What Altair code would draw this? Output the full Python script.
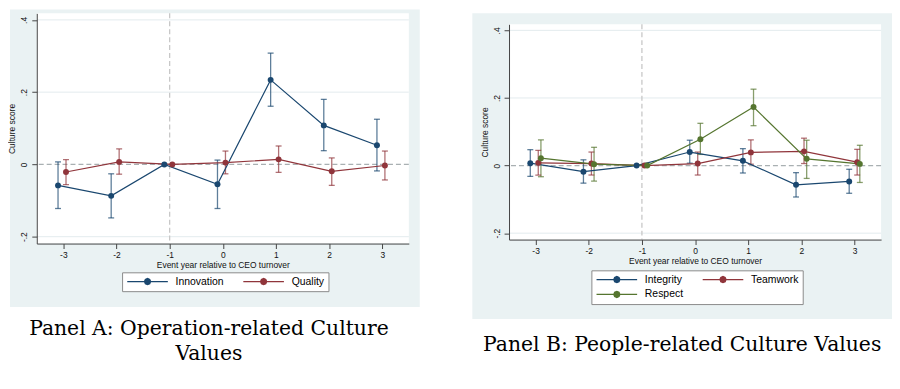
import altair as alt
import pandas as pd

# ---------------- data ----------------
years = [-3, -2, -1, 0, 1, 2, 3]

innovation    = [-0.058, -0.087, 0.0, -0.055, 0.234, 0.108, 0.053]
innovation_lo = [-0.122, -0.148, 0.0, -0.122, 0.161, 0.038, -0.018]
innovation_hi = [0.007, -0.026, 0.0, 0.012, 0.308, 0.180, 0.125]

quality    = [-0.021, 0.007, 0.0, 0.005, 0.014, -0.019, -0.003]
quality_lo = [-0.056, -0.027, 0.0, -0.026, -0.022, -0.058, -0.043]
quality_hi = [0.013, 0.043, 0.0, 0.037, 0.051, 0.018, 0.037]

integrity    = [0.007, -0.018, 0.0, 0.040, 0.014, -0.057, -0.047]
integrity_lo = [-0.032, -0.052, 0.0, 0.007, -0.022, -0.093, -0.082]
integrity_hi = [0.047, 0.017, 0.0, 0.075, 0.050, -0.021, -0.011]

teamwork    = [0.008, 0.006, 0.0, 0.006, 0.039, 0.042, 0.010]
teamwork_lo = [-0.028, -0.028, 0.0, -0.028, 0.004, 0.006, -0.028]
teamwork_hi = [0.045, 0.040, 0.0, 0.040, 0.076, 0.081, 0.048]

respect    = [0.022, 0.004, 0.0, 0.078, 0.173, 0.020, 0.005]
respect_lo = [-0.033, -0.046, 0.0, 0.033, 0.118, -0.038, -0.050]
respect_hi = [0.076, 0.054, 0.0, 0.125, 0.226, 0.075, 0.060]

series_a = ["Innovation", "Quality"]
series_b = ["Integrity", "Teamwork", "Respect"]
colors_a = ["#1a476f", "#90353b"]
colors_b = ["#1a476f", "#90353b", "#55752f"]
# legend fills column by column, so this order shows Integrity | Teamwork / Respect
legend_order_a = ["Innovation", "Quality"]
legend_order_b = ["Integrity", "Respect", "Teamwork"]
offsets_a = [-0.1, 0.05]
offsets_b = [-0.1, 0.05, 0.1]

ytick_values = [-0.2, 0, 0.2, 0.4]
ytick_labels = ["-.2", "0", ".2", ".4"]
grid_values = [-0.2, 0.2, 0.4]
ref_x = [-1]
ref_y = [0]

caption_a = ["Panel A: Operation-related Culture", "Values"]
caption_b = "Panel B: People-related Culture Values"
x_title = "Event year relative to CEO turnover"
y_title = "Culture score"

X_DOMAIN = [-3.5, 3.5]
Y_DOMAIN = [-0.219, 0.418]

SANS = "Liberation Sans"
AXIS_COL = "#444444"
TEXT_COL = "#111111"
BG = "#eaf2f3"


def make_df(names, est, lo, hi, offsets):
    rows = []
    for k, name in enumerate(names):
        for i, yr in enumerate(years):
            rows.append(dict(series=name, year=yr, x=yr + offsets[k],
                             est=est[k][i], lo=lo[k][i], hi=hi[k][i]))
    return pd.DataFrame(rows)


df_a = make_df(series_a, [innovation, quality], [innovation_lo, quality_lo],
               [innovation_hi, quality_hi], offsets_a)
df_b = make_df(series_b, [integrity, teamwork, respect],
               [integrity_lo, teamwork_lo, respect_lo],
               [integrity_hi, teamwork_hi, respect_hi], offsets_b)

ylabel_expr = " : ".join(
    f"abs(datum.value - ({v})) < 0.000001 ? '{l}'" for v, l in zip(ytick_values, ytick_labels)
) + " : ''"


def octagon(r):
    d = round(r * 0.7071, 4)
    return (f"M{-r},0L{-d},{-d}L0,{-r}L{d},{-d}L{r},0L{d},{d}L0,{r}L{-d},{d}Z")


# legend glyph: a 41px line with a dot in the middle (symbol nominal width 8.2px)
LEG_PATH = "M-5,0L5,0" + octagon(0.75) + octagon(0.5) + octagon(0.25)
LEG_SIZE = 67


def panel(df, names, colors, order, W, H, top, bg_box, legend_xy, caption, cap_offset, cap_dx):
    xs = alt.Scale(domain=X_DOMAIN, nice=False, zero=False)
    ys = alt.Scale(domain=Y_DOMAIN, nice=False, zero=False, range=[top + H, top])
    cmap = dict(zip(names, colors))
    cs = alt.Scale(domain=order, range=[cmap[n] for n in order])

    xaxis = alt.Axis(values=years, labelExpr="'' + datum.value", title=x_title,
                     grid=False, labelFont=SANS, titleFont=SANS, labelFontSize=8.5,
                     titleFontSize=8.5, titleFontWeight="normal", labelColor=TEXT_COL,
                     titleColor=TEXT_COL, domainColor=AXIS_COL, tickColor=AXIS_COL,
                     tickSize=5, labelPadding=2, titlePadding=2, zindex=1)
    yaxis = alt.Axis(values=ytick_values, labelExpr=ylabel_expr, title=y_title,
                     grid=False, labelAngle=270, labelAlign="center", labelBaseline="bottom",
                     labelFont=SANS, titleFont=SANS, labelFontSize=8.5, titleFontSize=8.5,
                     titleFontWeight="normal", labelColor=TEXT_COL, titleColor=TEXT_COL,
                     domainColor=AXIS_COL, tickColor=AXIS_COL, tickSize=5,
                     labelPadding=3, titlePadding=3, zindex=1)
    lx, ly = legend_xy
    legend = alt.Legend(
        title=None, orient="none", legendX=lx, legendY=ly, columns=2,
        symbolType=LEG_PATH, symbolSize=LEG_SIZE, symbolStrokeWidth=1.3,
        symbolOffset=16.4, symbolOpacity=1,
        labelFont=SANS, labelFontSize=10.5, labelColor="#000000",
        labelOffset=23, columnPadding=16, rowPadding=3, padding=4,
        fillColor="white", strokeColor="#8a8a8a", cornerRadius=0)

    X = lambda f: alt.X(f, scale=xs, axis=xaxis)
    Y = lambda f: alt.Y(f, scale=ys, axis=yaxis)
    C = alt.Color("series:N", scale=cs, legend=legend, sort=order)

    one = pd.DataFrame({"a": [0]})
    x0, x1, y0, y1 = bg_box
    gray = alt.Chart(one).mark_rect(color=BG).encode(
        x=alt.value(x0), x2=alt.value(x1), y=alt.value(y0), y2=alt.value(y1))
    white = alt.Chart(one).mark_rect(color="white").encode(
        x=alt.value(0), x2=alt.value(W), y=alt.value(top), y2=alt.value(top + H))

    grid = alt.Chart(pd.DataFrame({"g": grid_values})).mark_rule(
        color="#e3ebee", strokeWidth=1).encode(y=Y("g:Q"))
    vref = alt.Chart(pd.DataFrame({"rx": ref_x})).mark_rule(
        color="#c8c8c8", strokeWidth=1.3, strokeDash=[5, 3]).encode(
        x=X("rx:Q"), y=alt.value(top), y2=alt.value(top + H))
    href = alt.Chart(pd.DataFrame({"ry": ref_y})).mark_rule(
        color="#a9b0b2", strokeWidth=1.2, strokeDash=[5, 3]).encode(y=Y("ry:Q"))

    base = alt.Chart(df)
    ci = base.transform_filter("datum.lo != datum.hi")
    bars = ci.mark_rule(strokeWidth=1.3, opacity=0.7).encode(
        x=X("x:Q"), y=Y("lo:Q"), y2="hi:Q", color=C)
    cap_lo = ci.mark_tick(orient="horizontal", size=6, thickness=1.3, opacity=0.7).encode(
        x=X("x:Q"), y=Y("lo:Q"), color=C)
    cap_hi = ci.mark_tick(orient="horizontal", size=6, thickness=1.3, opacity=0.7).encode(
        x=X("x:Q"), y=Y("hi:Q"), color=C)
    lines = base.mark_line(strokeWidth=1.2).encode(
        x=X("x:Q"), y=Y("est:Q"), color=C)
    pts = base.mark_point(filled=True, size=36, opacity=1).encode(
        x=X("x:Q"), y=Y("est:Q"), color=C)

    layers = [gray, white, grid, vref, href, bars, cap_lo, cap_hi, lines, pts]
    return alt.layer(*layers).properties(
        width=W, height=top + H,
        title=alt.TitleParams(text=caption, orient="bottom", anchor="middle",
                              frame="bounds", font="DejaVu Serif", fontSize=20.5,
                              fontWeight="normal", color="#000000", offset=cap_offset,
                              lineHeight=25, baseline="top", dx=cap_dx))


chart_a = panel(df_a, series_a, colors_a, legend_order_a, 375, 232, 0, (-27, 386, -4, 296),
                (86, 261), caption_a, 12, -5)
chart_b = panel(df_b, series_b, colors_b, legend_order_b, 375, 217, 11, (-37, 386, 0, 308),
                (83, 259), caption_b, 16, 0)

chart = alt.hconcat(chart_a, chart_b, spacing=53).resolve_scale(
    color="independent").resolve_legend(color="independent").properties(
    padding=0, background="white"
).configure_view(stroke=None)

chart.save("out.html", embed_options={"renderer": "svg", "actions": False})
